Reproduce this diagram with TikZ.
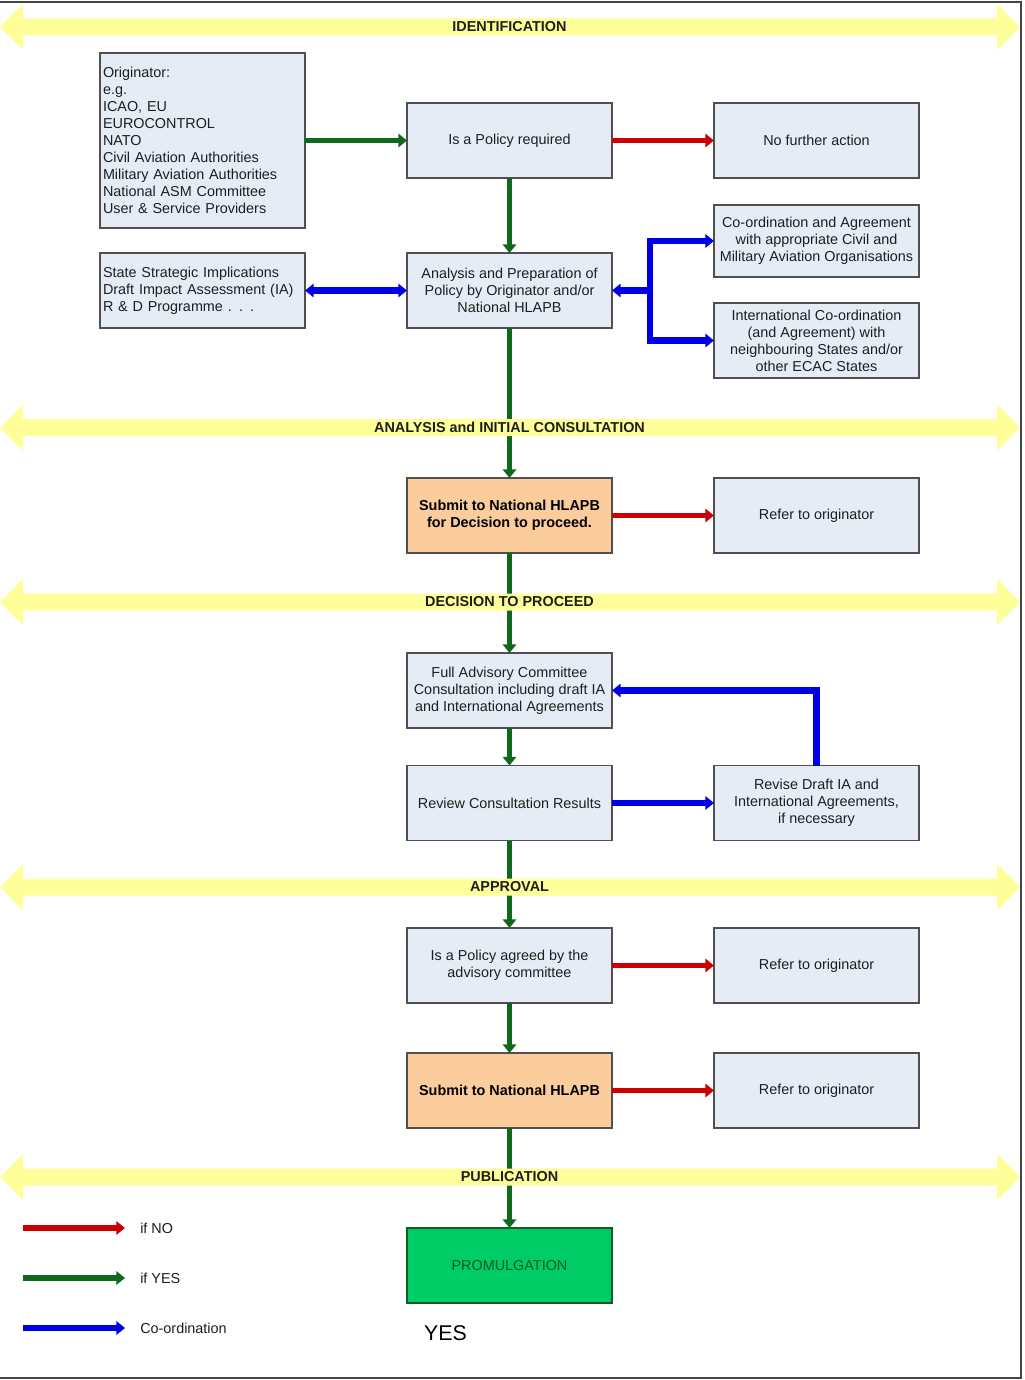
\documentclass[tikz,border=0pt]{standalone}
\usepackage{fontspec}
\setmainfont{Liberation Sans}
\usetikzlibrary{arrows.meta}
\definecolor{boxfill}{RGB}{230,236,246}
\definecolor{boxline}{RGB}{80,80,80}
\definecolor{orangefill}{RGB}{251,204,156}
\definecolor{promfill}{RGB}{0,204,102}
\definecolor{promline}{RGB}{20,90,45}
\definecolor{promtext}{RGB}{0,90,40}
\definecolor{bandyellow}{RGB}{255,255,153}
\definecolor{arrgreen}{RGB}{16,104,28}
\definecolor{arrred}{RGB}{204,0,0}
\definecolor{arrblue}{RGB}{0,0,230}
\definecolor{framegrey}{RGB}{70,70,70}
\definecolor{txtgrey}{RGB}{30,30,30}

\newcommand{\phaseband}[3]{%
  \fill[bandyellow] (0,#2) -- (23,#2-23) -- (23,#2-8.5) -- (997,#2-8.5) -- (997,#2-23)
    -- (1020,#2) -- (997,#2+23) -- (997,#2+8.5) -- (23,#2+8.5) -- (23,#2+23) -- cycle;
  \node[bandlabel] (#1) at (509.5,#2) {#3};
}

\begin{document}
\begin{tikzpicture}[x=0.75pt,y=-0.75pt,
  box/.style={draw=boxline, line width=1.3pt, fill=boxfill, minimum width=153.75pt,
    minimum height=56.25pt, inner sep=2.25pt, outer sep=0pt, align=center,
    text=txtgrey, font=\fontsize{10.8}{12.7}\selectfont},
  leftbox/.style={box, align=left, text width=149.25pt},
  orangebox/.style={box, fill=orangefill, font=\fontsize{10.8}{12.7}\selectfont\bfseries, text=black},
  prombox/.style={box, fill=promfill, draw=promline, text=promtext},
  bandlabel/.style={inner sep=0pt, font=\fontsize{10.8}{12}\selectfont\bfseries, text=txtgrey},
  legendlabel/.style={inner sep=0pt, anchor=west, text=txtgrey, font=\fontsize{10.8}{12}\selectfont},
  tip/.tip={Triangle[length=6.5pt,width=10pt]},
  greenarrow/.style={draw=arrgreen, line width=4pt, -tip},
  redarrow/.style={draw=arrred, line width=4pt, -tip},
  bluearrow/.style={draw=arrblue, line width=4.8pt, line join=miter, -tip},
]
\useasboundingbox (0,0) rectangle (1024,1380);
\fill[white] (0,0) rectangle (1024,1380);

% boxes
\node[leftbox, minimum height=131.25pt] (orig) at (202.5,140.5)
  {Originator:\\ e.g.\\ ICAO, EU\\ EUROCONTROL\\ NATO\\ Civil Aviation Authorities\\ Military Aviation Authorities\\ National ASM Committee\\ User \& Service Providers};
\node[box] (policy) at (509.5,140.5) {Is a Policy required};
\node[box] (nofurther) at (816.5,140.5) {No further action};
\node[box, minimum height=54pt] (coord) at (816.5,241) {Co-ordination and Agreement\\ with appropriate Civil and\\ Military Aviation Organisations};
\node[box] (intl) at (816.5,340.5) {International Co-ordination\\ (and Agreement) with\\ neighbouring States and/or\\ other ECAC States};
\node[leftbox] (strat) at (202.5,290.5) {State Strategic Implications\\ Draft Impact Assessment (IA)\\ R \& D Programme . . .};
\node[box] (analysis) at (509.5,290.5) {Analysis and Preparation of\\ Policy by Originator and/or\\ National HLAPB};
\node[orangebox] (submit) at (509.5,515.5) {Submit to National HLAPB\\ for Decision to proceed.};
\node[box] (refer1) at (816.5,515.5) {Refer to originator};
\node[box] (full) at (509.5,690.5) {Full Advisory Committee\\ Consultation including draft IA\\ and International Agreements};
\node[box] (review) at (509.5,803) {Review Consultation Results};
\node[box] (revise) at (816.5,803) {Revise Draft IA and\\ International Agreements,\\ if necessary};
\node[box] (agreed) at (509.5,965.5) {Is a Policy agreed by the\\ advisory committee};
\node[box] (refer2) at (816.5,965.5) {Refer to originator};
\node[orangebox] (submit2) at (509.5,1090.5) {Submit to National HLAPB};
\node[box] (refer3) at (816.5,1090.5) {Refer to originator};
\node[prombox] (prom) at (509.5,1265.5) {PROMULGATION};

% connectors
\draw[greenarrow] (orig.east) -- (policy.west);
\draw[redarrow] (policy.east) -- (nofurther.west);
\draw[greenarrow] (policy.south) -- (analysis.north);
\draw[bluearrow, tip-tip] (strat.east) -- (analysis.west);
\coordinate (jn) at (650,290.5);
\draw[bluearrow] (jn) -- (analysis.east);
\draw[bluearrow] (jn) |- (coord.west);
\draw[bluearrow] (jn) |- (intl.west);
\draw[greenarrow] (analysis.south) -- (submit.north);
\draw[redarrow] (submit.east) -- (refer1.west);
\draw[greenarrow] (submit.south) -- (full.north);
\draw[greenarrow] (full.south) -- (review.north);
\draw[bluearrow] (review.east) -- (revise.west);
\draw[bluearrow] (revise.north) |- (full.east);
\draw[greenarrow] (review.south) -- (agreed.north);
\draw[redarrow] (agreed.east) -- (refer2.west);
\draw[greenarrow] (agreed.south) -- (submit2.north);
\draw[redarrow] (submit2.east) -- (refer3.west);
\draw[greenarrow] (submit2.south) -- (prom.north);

% phase bands
\phaseband{bandA}{27}{IDENTIFICATION}
\phaseband{bandB}{427.5}{ANALYSIS and INITIAL CONSULTATION}
\phaseband{bandC}{602}{DECISION TO PROCEED}
\phaseband{bandD}{887}{APPROVAL}
\phaseband{bandE}{1177}{PUBLICATION}

% legend
\coordinate (lgNOa) at (23,1228); \coordinate (lgNOb) at (125,1228);
\coordinate (lgYESa) at (23,1278); \coordinate (lgYESb) at (125,1278);
\coordinate (lgCOa) at (23,1328); \coordinate (lgCOb) at (125,1328);
\draw[redarrow] (lgNOa) -- (lgNOb);
\draw[greenarrow] (lgYESa) -- (lgYESb);
\draw[bluearrow] (lgCOa) -- (lgCOb);
\node[legendlabel] (lgNO) at (140,1228) {if NO};
\node[legendlabel] (lgYES) at (140,1278) {if YES};
\node[legendlabel] (lgCO) at (140,1328) {Co-ordination};
\node[inner sep=0pt, text=black, font=\fontsize{16}{18}\selectfont] (yes) at (445.5,1333) {YES};

% frame
\draw[framegrey, line width=1.5pt] (0,2.5) -- (1020.5,2.5) -- (1020.5,1378) -- (0,1378);
\end{tikzpicture}
\end{document}
